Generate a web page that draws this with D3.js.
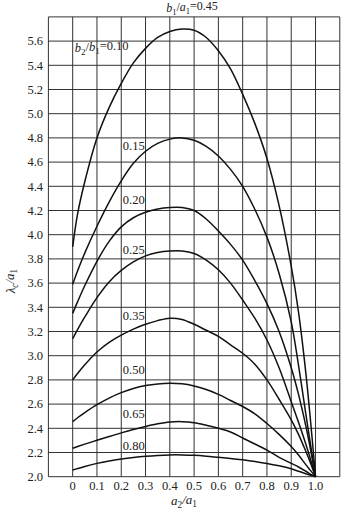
<!DOCTYPE html>
<html><head><meta charset="utf-8">
<script src="https://cdn.jsdelivr.net/npm/d3@7/dist/d3.min.js"></script>
<style>
html,body{margin:0;padding:0;background:#fff;}
svg text{font-family:"Liberation Serif","Times New Roman",serif;fill:#222;}
</style></head>
<body><svg id="c" width="341" height="512" font-family="Liberation Serif, Times New Roman, serif"></svg>
<script>
// shared x values (a2/a1)
const xValues = [0,0.02,0.05,0.1,0.15,0.2,0.25,0.3,0.35,0.4,0.45,0.5,0.55,0.6,0.65,0.7,0.75,0.8,0.85,0.9,0.93,0.96,0.98,1.0];
// series: lambda_c/a1 for each b2/b1
const series010 = [3.90,4.17,4.44,4.80,5.05,5.25,5.42,5.54,5.63,5.68,5.70,5.69,5.63,5.52,5.37,5.16,4.92,4.63,4.24,3.74,3.36,2.86,2.45,2.0];
const series015 = [3.59,3.70,3.85,4.07,4.27,4.445,4.59,4.69,4.755,4.79,4.80,4.78,4.73,4.65,4.54,4.40,4.21,3.98,3.68,3.28,2.92,2.52,2.26,2.0];
const series020 = [3.35,3.445,3.58,3.78,3.945,4.065,4.14,4.185,4.212,4.225,4.225,4.20,4.13,4.03,3.92,3.79,3.62,3.43,3.20,2.90,2.68,2.42,2.22,2.0];
const series025 = [3.14,3.215,3.32,3.48,3.61,3.705,3.775,3.825,3.853,3.865,3.865,3.845,3.79,3.71,3.60,3.46,3.31,3.13,2.90,2.62,2.45,2.27,2.14,2.0];
const series035 = [2.80,2.853,2.925,3.03,3.11,3.17,3.22,3.26,3.29,3.31,3.30,3.26,3.21,3.16,3.09,3.02,2.93,2.80,2.64,2.47,2.35,2.21,2.11,2.0];
const series050 = [2.455,2.487,2.53,2.595,2.65,2.695,2.729,2.753,2.767,2.772,2.768,2.75,2.72,2.68,2.63,2.58,2.52,2.44,2.35,2.25,2.18,2.10,2.05,2.0];
const series065 = [2.235,2.249,2.269,2.301,2.332,2.362,2.39,2.415,2.437,2.452,2.455,2.446,2.425,2.40,2.37,2.32,2.27,2.22,2.16,2.11,2.08,2.045,2.02,2.0];
const series080 = [2.055,2.067,2.085,2.11,2.13,2.146,2.159,2.169,2.176,2.18,2.18,2.177,2.17,2.16,2.15,2.14,2.125,2.11,2.09,2.065,2.045,2.025,2.012,2.0];
const seriesList = [series010,series015,series020,series025,series035,series050,series065,series080];
// curve labels
const curveLabels = ["0.15","0.20","0.25","0.35","0.50","0.65","0.80"];
const curveLabelY = [4.704,4.254,3.84,3.295,2.849,2.485,2.22];
const firstLabelY = 5.51;
// ticks
const xTicks = [0,0.1,0.2,0.3,0.4,0.5,0.6,0.7,0.8,0.9,1.0];
const xTickLabels = ["0","0.1","0.2","0.3","0.4","0.5","0.6","0.7","0.8","0.9","1.0"];
const yTicks = [2.0,2.2,2.4,2.6,2.8,3.0,3.2,3.4,3.6,3.8,4.0,4.2,4.4,4.6,4.8,5.0,5.2,5.4,5.6];
const xGrid = d3.range(-0.1,1.1001,0.1);
const yGrid = d3.range(2.0,5.8001,0.2);

const FONT = "Liberation Serif, Times New Roman, serif";
const svg = d3.select("#c");
const x = d3.scaleLinear().domain([-0.1,1.1]).range([48.4,339.8]);
const y = d3.scaleLinear().domain([2.0,5.8]).range([476.7,16.9]);

const g = svg.append("g");
g.selectAll("line.v").data(xGrid).enter().append("line")
  .attr("x1",d=>x(d)).attr("x2",d=>x(d)).attr("y1",y(2.0)).attr("y2",y(5.8))
  .attr("stroke","#333").attr("stroke-width",1);
g.selectAll("line.h").data(yGrid).enter().append("line")
  .attr("y1",d=>y(d)).attr("y2",d=>y(d)).attr("x1",x(-0.1)).attr("x2",x(1.1))
  .attr("stroke","#333").attr("stroke-width",1);

const line = d3.line().x((d,i)=>x(xValues[i])).y(d=>y(d)).curve(d3.curveCatmullRom.alpha(0.5));
svg.selectAll("path.c").data(seriesList).enter().append("path")
  .attr("d",d=>line(d)).attr("fill","none").attr("stroke","#111").attr("stroke-width",1.5);

// y tick labels
svg.selectAll("text.yt").data(yTicks).enter().append("text")
  .attr("font-family",FONT)
  .attr("x",43).attr("y",d=>y(d)).attr("dy","0.35em").attr("text-anchor","end")
  .attr("font-size",12.5).text(d=>d.toFixed(1));
// x tick labels
svg.selectAll("text.xt").data(xTicks).enter().append("text")
  .attr("font-family",FONT)
  .attr("x",d=>x(d)).attr("y",489.5).attr("text-anchor","middle")
  .attr("font-size",12.5).text((d,i)=>xTickLabels[i]);

// curve labels
svg.selectAll("text.cl").data(curveLabels).enter().append("text")
  .attr("font-family",FONT)
  .attr("x",x(0.2)+1.5).attr("y",(d,i)=>y(curveLabelY[i]))
  .attr("font-size",12.5).text(d=>d);

function fracText(sel, parts){
  parts.forEach(p=>{
    const t = sel.append("tspan").text(p.t);
    if(p.i) t.attr("font-style","italic");
    if(p.sub){ t.attr("font-size","0.72em").attr("dy",p.dy||"0.3em"); }
    if(p.back){ t.attr("dy",p.back); }
  });
}
// b2/b1=0.10 label
const l0 = svg.append("text").attr("font-family",FONT).attr("x",x(0)+2).attr("y",y(firstLabelY)).attr("font-size",12.5);
fracText(l0,[{t:"b",i:1},{t:"2",sub:1},{t:"/",back:"-0.3em"},{t:"b",i:1},{t:"1",sub:1},{t:"=0.10",back:"-0.3em"}]);
// title
const tt = svg.append("text").attr("font-family",FONT).attr("x",192).attr("y",12).attr("text-anchor","middle").attr("font-size",12);
fracText(tt,[{t:"b",i:1},{t:"1",sub:1},{t:"/",back:"-0.3em"},{t:"a",i:1},{t:"1",sub:1},{t:"=0.45",back:"-0.3em"}]);
// x title
const xt = svg.append("text").attr("font-family",FONT).attr("x",184).attr("y",505).attr("text-anchor","middle").attr("font-size",13);
fracText(xt,[{t:"a",i:1},{t:"2",sub:1},{t:"/",back:"-0.3em",i:1},{t:"a",i:1},{t:"1",sub:1}]);
// y title
const yt = svg.append("text").attr("font-family",FONT).attr("transform","translate(15,281) rotate(-90)").attr("text-anchor","middle").attr("font-size",13);
fracText(yt,[{t:"λ",i:1},{t:"c",sub:1,i:1},{t:"/",back:"-0.3em",i:1},{t:"a",i:1},{t:"1",sub:1}]);
</script></body></html>
